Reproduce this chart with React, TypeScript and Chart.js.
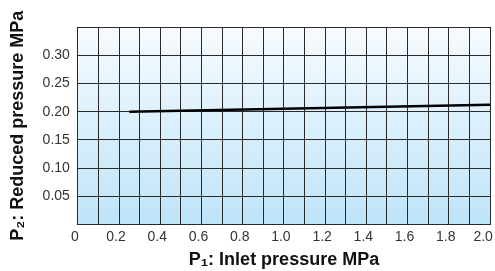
import React, { useEffect, useRef } from "react";
import { Chart, registerables } from "chart.js";

Chart.register(...registerables);

const inletPressure = [0.25, 2.0];
const reducedPressure = [0.2, 0.2125];
const xTickLabels = ["0", "0.2", "0.4", "0.6", "0.8", "1.0", "1.2", "1.4", "1.6", "1.8", "2.0  "];
const yTickLabels = ["0.05", "0.10", "0.15", "0.20", "0.25", "0.30"];

const bgPlugin = {
  id: "bgGradient",
  beforeDraw(chart: any) {
    const { ctx, chartArea } = chart;
    if (!chartArea) return;
    const g = ctx.createLinearGradient(0, chartArea.top, 0, chartArea.bottom);
    g.addColorStop(0, "#f7fbff");
    g.addColorStop(1, "#bde4f8");
    ctx.save();
    ctx.fillStyle = g;
    ctx.fillRect(chartArea.left, chartArea.top, chartArea.right - chartArea.left, chartArea.bottom - chartArea.top);
    ctx.restore();
  },
};

export default function App() {
  const ref = useRef<HTMLCanvasElement>(null);
  useEffect(() => {
    if (!ref.current) return;
    const data = inletPressure.map((x, i) => ({ x, y: reducedPressure[i] }));
    const chart = new Chart(ref.current, {
      type: "line",
      data: {
        datasets: [
          {
            data,
            borderColor: "#000",
            borderWidth: 2.5,
            pointRadius: 0,
            fill: false,
          },
        ],
      },
      plugins: [bgPlugin],
      options: {
        animation: false,
        responsive: false,
        maintainAspectRatio: false,
        layout: { padding: { top: 27, right: 5, left: 7, bottom: 0 } },
        plugins: { legend: { display: false }, tooltip: { enabled: false } },
        scales: {
          x: {
            type: "linear",
            min: 0,
            max: 2.0,
            afterFit: (scale: any) => {
              scale.paddingRight = 0;
              scale.paddingLeft = 0;
            },
            ticks: {
              stepSize: 0.1,
              autoSkip: false,
              maxRotation: 0,
              color: "#333",
              labelOffset: -3,
              font: { family: "Liberation Sans, Arial", size: 14 },
              padding: 4,
              callback: (v: any) => {
                const idx = Math.round(Number(v) * 10);
                if (idx % 2 !== 0) return "";
                return xTickLabels[idx / 2] ?? "";
              },
            },
            grid: { color: "#2a2a2a", lineWidth: 1, drawTicks: false },
            border: { color: "#2a2a2a", width: 1 },
            title: {
              display: true,
              text: "P₁: Inlet pressure MPa",
              color: "#111",
              font: { family: "Liberation Sans, Arial", size: 18, weight: "bold" },
              padding: { top: 0, bottom: 0 },
            },
          },
          y: {
            type: "linear",
            min: 0,
            max: 0.35,
            ticks: {
              stepSize: 0.05,
              autoSkip: false,
              color: "#333",
              font: { family: "Liberation Sans, Arial", size: 14 },
              padding: 8,
              callback: (v: any) => {
                const idx = Math.round(Number(v) * 20);
                if (idx < 1 || idx > 6) return "";
                return yTickLabels[idx - 1];
              },
            },
            grid: { color: "#2a2a2a", lineWidth: 1, drawTicks: false },
            border: { color: "#2a2a2a", width: 1 },
            title: {
              display: true,
              text: "P₂: Reduced pressure MPa",
              color: "#111",
              font: { family: "Liberation Sans, Arial", size: 18, weight: "bold" },
              padding: { top: 0, bottom: 6 },
            },
          },
        },
      },
    });
    return () => chart.destroy();
  }, []);
  return (
    <div style={{ position: "absolute", left: 0, top: 0, width: 495, height: 271 }}>
      <canvas ref={ref} width={495} height={271} style={{ display: "block" }} />
    </div>
  );
}
